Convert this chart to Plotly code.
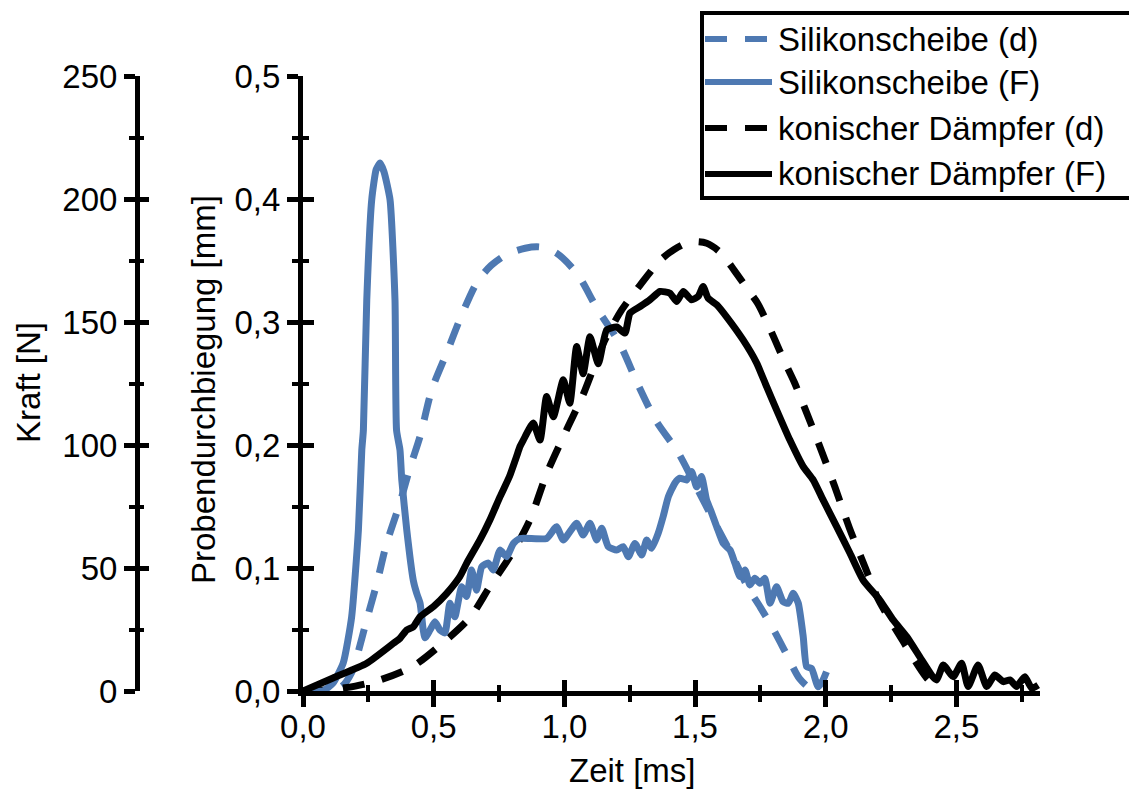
import plotly.graph_objects as go

# ---------------- data ----------------
# Silikonscheibe: force (N) and deflection (mm) over time (ms)
sil_F_t = [0.000, 0.050, 0.077, 0.115, 0.154, 0.186, 0.212, 0.225, 0.231, 0.244, 0.263,
           0.280, 0.295, 0.310, 0.333, 0.352, 0.358, 0.371, 0.378, 0.397, 0.422, 0.435,
           0.448, 0.460, 0.467, 0.486, 0.505, 0.524, 0.543, 0.562, 0.581, 0.607, 0.626,
           0.645, 0.664, 0.684, 0.709, 0.728, 0.754, 0.779, 0.805, 0.830, 0.932, 0.970,
           0.996, 1.047, 1.072, 1.098, 1.124, 1.143, 1.168, 1.200, 1.225, 1.245, 1.270,
           1.296, 1.315, 1.334, 1.359, 1.378, 1.398, 1.423, 1.442, 1.468, 1.487, 1.506,
           1.525, 1.544, 1.564, 1.583, 1.608, 1.634, 1.653, 1.672, 1.691, 1.710, 1.729,
           1.748, 1.767, 1.787, 1.812, 1.837, 1.857, 1.876, 1.895, 1.914, 1.927, 1.946,
           1.971, 1.990, 2.003]
sil_F = [0.0, 0.0, 0.0, 3.2, 11.4, 30.0, 65.5, 98.0, 106.0, 159.0, 199.7,
         212.0, 214.6, 211.0, 199.7, 159.0, 106.0, 98.0, 85.8, 65.5, 45.0, 39.7,
         35.7, 24.8, 21.6, 24.8, 28.2, 24.8, 23.6, 35.7, 30.2, 42.4, 38.4,
         49.2, 41.0, 50.5, 52.0, 49.2, 57.3, 54.6, 60.0, 62.0, 62.0, 66.8,
         61.4, 68.2, 63.4, 68.2, 61.4, 66.2, 58.7, 57.3, 58.7, 54.6, 60.0,
         55.3, 61.4, 58.0, 64.1, 70.9, 79.0, 84.5, 86.5, 85.8, 89.2, 83.0,
         87.2, 77.7, 72.3, 66.8, 60.0, 57.3, 51.9, 46.5, 49.2, 43.1, 45.8,
         43.8, 45.8, 35.7, 42.4, 36.3, 35.7, 39.7, 35.7, 22.1, 9.9, 9.2,
         1.7, 4.5, 7.8]

sil_d_t = [0.000, 0.100, 0.150, 0.186, 0.205, 0.244, 0.283, 0.320, 0.371, 0.410, 0.448,
           0.493, 0.550, 0.600, 0.665, 0.720, 0.780, 0.850, 0.907, 0.970, 1.050, 1.125,
           1.210, 1.280, 1.350, 1.435, 1.490, 1.585, 1.650, 1.700, 1.750, 1.800, 1.850,
           1.900, 1.950]
sil_d = [0.000, 0.000, 0.004, 0.015, 0.027, 0.058, 0.088, 0.120, 0.153, 0.182, 0.207,
         0.245, 0.275, 0.302, 0.332, 0.346, 0.355, 0.360, 0.361, 0.356, 0.339, 0.311,
         0.283, 0.250, 0.220, 0.194, 0.172, 0.133, 0.107, 0.085, 0.068, 0.050, 0.030,
         0.010, 0.000]

# konischer Dämpfer: force (N) and deflection (mm) over time (ms)
kon_F_t = [0.000, 0.115, 0.244, 0.346, 0.371, 0.397, 0.422, 0.448, 0.499, 0.550, 0.600,
           0.626, 0.677, 0.715, 0.754, 0.790, 0.817, 0.830, 0.843, 0.881, 0.907, 0.932,
           0.958, 0.996, 1.021, 1.047, 1.072, 1.098, 1.130, 1.162, 1.200, 1.232, 1.251,
           1.290, 1.327, 1.366, 1.404, 1.430, 1.455, 1.487, 1.512, 1.531, 1.550, 1.583,
           1.620, 1.684, 1.736, 1.774, 1.812, 1.863, 1.914, 1.952, 1.990, 2.042, 2.093,
           2.143, 2.207, 2.258, 2.310, 2.360, 2.410, 2.425, 2.450, 2.488, 2.520, 2.545,
           2.583, 2.616, 2.647, 2.680, 2.705, 2.730, 2.762, 2.788, 2.813]
kon_F = [0.0, 5.3, 11.3, 19.4, 21.4, 24.8, 26.1, 30.2, 34.3, 39.7, 46.5,
         51.9, 61.4, 69.5, 79.0, 87.2, 95.3, 99.3, 102.0, 108.9, 102.0, 119.7,
         111.5, 126.5, 117.0, 140.0, 129.0, 144.0, 133.0, 146.8, 148.0, 145.5, 153.6,
         156.3, 159.0, 162.4, 161.7, 158.3, 162.4, 159.0, 160.4, 164.4, 159.7, 157.0,
         152.2, 142.7, 133.3, 123.7, 114.3, 102.0, 91.2, 85.8, 77.7, 66.8, 56.0,
         45.1, 37.0, 28.9, 22.1, 13.9, 5.8, 4.5, 10.6, 5.8, 11.3, 1.8,
         10.6, 1.8, 6.5, 3.8, 4.5, 1.8, 5.8, 1.1, 2.4]

kon_d_t = [0.000, 0.100, 0.200, 0.295, 0.420, 0.535, 0.640, 0.715, 0.800, 0.868, 0.933,
           1.010, 1.070, 1.150, 1.220, 1.290, 1.366, 1.420, 1.480, 1.545, 1.600, 1.650,
           1.700, 1.740, 1.790, 1.840, 1.880, 1.920, 1.970, 2.035, 2.090, 2.150, 2.200,
           2.300, 2.385, 2.430]
kon_d = [0.000, 0.001, 0.004, 0.009, 0.020, 0.039, 0.060, 0.085, 0.112, 0.139, 0.177,
         0.213, 0.240, 0.283, 0.310, 0.330, 0.350, 0.359, 0.365, 0.364, 0.356, 0.342,
         0.327, 0.315, 0.293, 0.269, 0.251, 0.230, 0.203, 0.166, 0.133, 0.101, 0.075,
         0.039, 0.011, 0.002]

series_names = ["Silikonscheibe (d)", "Silikonscheibe (F)",
                "konischer Dämpfer (d)", "konischer Dämpfer (F)"]

x_ticks = [0.0, 0.5, 1.0, 1.5, 2.0, 2.5]
d_ticks = [0.0, 0.1, 0.2, 0.3, 0.4, 0.5]
F_ticks = [0, 50, 100, 150, 200, 250]

# ---------------- styling ----------------
BLUE = "#4E79B2"
BLACK = "#000000"
FONT = "Liberation Sans, Arial, sans-serif"
FS = 33
LW = 7
DASH = "22px,18px"

W, H = 1129, 789
ML, MR, MT, MB = 100, 89, 76, 98
PW, PH = W - ML - MR, H - MT - MB


def px_x(p):
    return (p - ML) / PW


def px_y(p):
    return (H - MB - p) / PH


x_start = px_x(303)
kraft_pos = px_x(137)

fig = go.Figure()
fig.add_trace(go.Scatter(x=sil_d_t, y=sil_d, mode="lines", name=series_names[0],
                         line=dict(color=BLUE, width=LW, dash=DASH, shape="spline",
                                   smoothing=0.8), yaxis="y"))
fig.add_trace(go.Scatter(x=sil_F_t, y=sil_F, mode="lines", name=series_names[1],
                         line=dict(color=BLUE, width=LW, shape="spline", smoothing=0.5),
                         yaxis="y2"))
fig.add_trace(go.Scatter(x=kon_d_t, y=kon_d, mode="lines", name=series_names[2],
                         line=dict(color=BLACK, width=LW, dash=DASH, shape="spline",
                                   smoothing=0.8), yaxis="y"))
fig.add_trace(go.Scatter(x=kon_F_t, y=kon_F, mode="lines", name=series_names[3],
                         line=dict(color=BLACK, width=LW, shape="spline", smoothing=0.5),
                         yaxis="y2"))

# empty traces so that the inward tick axes get their own subplots drawn
fig.add_trace(go.Scatter(x=[], y=[], xaxis="x2", yaxis="y3", hoverinfo="skip"))
fig.add_trace(go.Scatter(x=[], y=[], xaxis="x", yaxis="y4", hoverinfo="skip"))

tickfont = dict(family=FONT, size=FS, color="black")


def axis_style(ticks, minor_dtick, side_ticks, labels=True, line=True, fmt=None):
    d = dict(
        tickvals=ticks,
        ticks=side_ticks, ticklen=11, tickwidth=5, tickcolor="black",
        showline=line, linewidth=5, linecolor="black",
        showgrid=False, zeroline=False, automargin=False,
        showticklabels=labels, tickfont=tickfont,
        minor=dict(dtick=minor_dtick, tick0=0, ticks=side_ticks, ticklen=6,
                   tickwidth=4, tickcolor="black", showgrid=False),
    )
    if fmt:
        d["tickformat"] = fmt
    return d


xr = [0, 2.82]
fig.update_layout(
    width=W, height=H,
    margin=dict(l=ML, r=MR, t=MT, b=MB, pad=0),
    paper_bgcolor="white", plot_bgcolor="white",
    separators=",.",
    showlegend=False,
    font=dict(family=FONT, size=FS, color="black"),
    xaxis=dict(domain=[x_start, 1], range=xr, anchor="y", ticklabelstandoff=-9,
               **axis_style(x_ticks, 0.25, "outside", fmt=".1f")),
    xaxis2=dict(domain=[x_start, 1], range=xr, anchor="y3", overlaying="x",
                **axis_style(x_ticks, 0.25, "inside", labels=False, line=False)),
    yaxis=dict(range=[0, 0.5], anchor="x",
               **axis_style(d_ticks, 0.05, "outside", fmt=".1f")),
    yaxis2=dict(range=[0, 250], anchor="free", overlaying="y", side="left",
                position=kraft_pos, **axis_style(F_ticks, 25, "outside")),
    yaxis3=dict(range=[0, 0.5], anchor="x2", overlaying="y", side="left",
                **axis_style(d_ticks, 0.05, "inside", labels=False, line=False)),
    yaxis4=dict(range=[0, 250], anchor="free", overlaying="y", side="left",
                position=kraft_pos,
                **axis_style(F_ticks, 25, "inside", labels=False, line=False)),
)

# axis titles
fig.add_annotation(text="Zeit [ms]", xref="paper", yref="paper",
                   x=px_x(632), y=px_y(770), showarrow=False,
                   xanchor="center", yanchor="middle", font=dict(size=FS))
fig.add_annotation(text="Kraft [N]", xref="paper", yref="paper",
                   x=px_x(28), y=px_y(383), showarrow=False, textangle=-90,
                   xanchor="center", yanchor="middle", font=dict(size=FS))
fig.add_annotation(text="Probendurchbiegung [mm]", xref="paper", yref="paper",
                   x=px_x(204), y=px_y(390), showarrow=False, textangle=-90,
                   xanchor="center", yanchor="middle", font=dict(size=FS))

# legend box with line samples
fig.add_shape(type="rect", xref="paper", yref="paper",
              x0=px_x(702), x1=px_x(1140), y0=px_y(198), y1=px_y(13),
              line=dict(color="black", width=4), fillcolor="white", layer="above")
legend_rows = [39, 82, 128, 174]
legend_styles = [(BLUE, DASH), (BLUE, "solid"), (BLACK, DASH), (BLACK, "solid")]
for row, name, (col, dash) in zip(legend_rows, series_names, legend_styles):
    fig.add_shape(type="line", xref="paper", yref="paper",
                  x0=px_x(705), x1=px_x(772), y0=px_y(row), y1=px_y(row),
                  line=dict(color=col, width=6, dash=dash), layer="above")
    fig.add_annotation(text=name, xref="paper", yref="paper",
                       x=px_x(776), y=px_y(row), showarrow=False,
                       xanchor="left", yanchor="middle", font=dict(size=FS))

fig.write_html("out.html")
